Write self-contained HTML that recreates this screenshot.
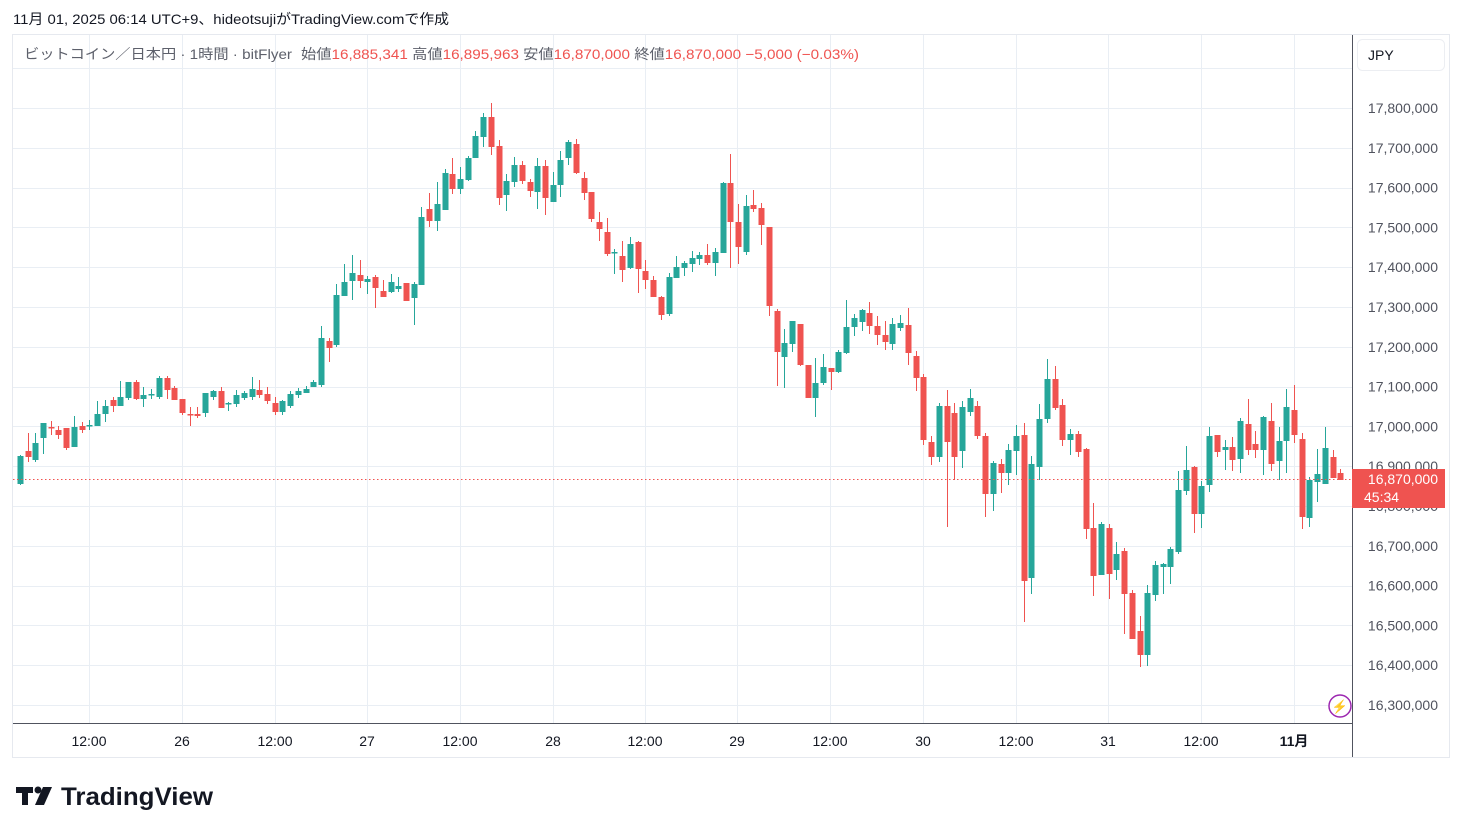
<!DOCTYPE html>
<html><head><meta charset="utf-8"><style>
body{margin:0;background:#fff;width:1462px;height:833px;overflow:hidden;font-family:"Liberation Sans","Noto Sans CJK JP",sans-serif;}
svg{position:absolute;left:0;top:0}
</style></head><body>
<svg id="s" width="1462" height="833" xmlns="http://www.w3.org/2000/svg" font-family="Liberation Sans, Noto Sans CJK JP, sans-serif">
<rect x="12.5" y="34.5" width="1437" height="723" fill="#fff" stroke="#e6e9ef"/>
<g id="grid" stroke="#e9eef4" stroke-width="1"></g>
<g id="c"></g>
<line x1="13" y1="479.5" x2="1352" y2="479.5" stroke="#ef5350" stroke-dasharray="1.5,2.5"/>
<line x1="13" y1="723.5" x2="1352" y2="723.5" stroke="#50535e"/>
<line x1="1352.5" y1="35" x2="1352.5" y2="757" stroke="#50535e"/>
<text x="13" y="24" font-size="14" fill="#131722" textLength="436" lengthAdjust="spacingAndGlyphs">11月 01, 2025 06:14 UTC+9、hideotsujiがTradingView.comで作成</text>
<text x="24" y="59" font-size="14" fill="#5d606b" textLength="268" lengthAdjust="spacingAndGlyphs">ビットコイン／日本円 · 1時間 · bitFlyer</text>
<text x="301" y="59" font-size="14" textLength="558" lengthAdjust="spacingAndGlyphs"><tspan fill="#5d606b">始値</tspan><tspan fill="#ef5350">16,885,341 </tspan><tspan fill="#5d606b"> 高値</tspan><tspan fill="#ef5350">16,895,963 </tspan><tspan fill="#5d606b"> 安値</tspan><tspan fill="#ef5350">16,870,000 </tspan><tspan fill="#5d606b"> 終値</tspan><tspan fill="#ef5350">16,870,000 </tspan><tspan fill="#ef5350"> −5,000 (−0.03%)</tspan></text>
<rect x="1357.5" y="39.5" width="87" height="31" rx="5" fill="#fff" stroke="#eceef2"/>
<text x="1368" y="60" font-size="14" fill="#131722">JPY</text>
<g id="p" font-size="14" fill="#50535e" text-anchor="end"></g>
<rect x="1352" y="469" width="93" height="39" fill="#ef5350"/>
<text x="1438" y="484" font-size="14" fill="#fff" text-anchor="end">16,870,000</text>
<text x="1364" y="502" font-size="14" fill="#fff">45:34</text>
<g font-size="14" fill="#131722" text-anchor="middle">
<text x="89" y="746">12:00</text><text x="182" y="746">26</text><text x="275" y="746">12:00</text><text x="367" y="746">27</text><text x="460" y="746">12:00</text><text x="553" y="746">28</text><text x="645" y="746">12:00</text><text x="737" y="746">29</text><text x="830" y="746">12:00</text><text x="923" y="746">30</text><text x="1016" y="746">12:00</text><text x="1108" y="746">31</text><text x="1201" y="746">12:00</text><text x="1294" y="746" font-weight="bold">11月</text>
</g>
<circle cx="1340" cy="706" r="11" fill="#fff" stroke="#9c27b0" stroke-width="1.5"/>
<text x="1340" y="711" font-size="13" fill="#9c27b0" text-anchor="middle">⚡</text>
<g fill="#131722"><rect x="16" y="787" width="17" height="6"/><rect x="22" y="787" width="6" height="18"/><circle cx="38" cy="790" r="3.5"/><polygon points="43,787 52,787 44,805 35,805"/></g>
<text x="61" y="805" font-size="25" font-weight="bold" fill="#131722" textLength="152" lengthAdjust="spacingAndGlyphs">TradingView</text>
</svg>
<script>
var g=document.getElementById('grid'),s='';
for(var k=-1;k<16;k++){var y=Math.round(108+k*39.8)+0.5;s+='<line x1="13" y1="'+y+'" x2="1352" y2="'+y+'"/>';}
[89,182,275,367,460,553,645,737,830,923,1016,1108,1201,1294].forEach(function(x){s+='<line x1="'+(x+0.5)+'" y1="35" x2="'+(x+0.5)+'" y2="723"/>';});
g.innerHTML=s;
var p='';for(var k=0;k<16;k++){var v=17800000-k*100000;var y=108+k*39.8+5;p+='<text x="1438" y="'+y+'">'+v.toLocaleString('en-US')+'</text>';}
document.getElementById('p').innerHTML=p;
var d="G456,484,455,485;R451,457,433,462;G443,460,433,462;G423,438,423,454;R427,428,421,435;R430,435,426,439;R428,448,428,450;G427,447,416,447;R426,430,422,433;G425,426,420,430;G414,426,401,426;G406,414,400,422;R400,406,397,412;G397,406,381,406;G382,398,382,400;R382,399,380,400;G395,399,387,407;G394,395,389,399;G378,397,376,399;R378,390,376,399;R388,400,386,400;R399,413,399,415;R414,415,407,426;R414,416,407,418;G393,413,393,417;G391,397,390,400;R391,408,387,408;G403,404,402,411;G395,404,390,407;G393,398,391,400;G389,397,377,400;R390,395,380,398;R394,401,387,404;R403,412,397,415;G401,412,400,415;G394,406,391,408;G391,395,388,398;G389,393,386,393;G382,387,380,387;G338,385,326,387;R341,348,338,362;G295,345,284,347;G282,296,264,296;G273,281,255,300;R275,281,260,288;G279,282,276,294;R277,288,275,308;R291,297,280,297;G282,292,274,293;G286,289,277,292;R283,301,283,301;G284,298,282,325;G217,285,207,285;R209,221,193,227;G204,221,182,231;G173,210,169,210;R174,189,158,194;G179,189,167,194;G158,180,156,181;G136,158,131,158;G117,137,113,147;R117,147,103,155;R146,198,140,205;G181,195,174,211;G165,182,157,187;R165,181,161,184;R182,191,179,197;G166,192,158,209;R166,198,160,215;G185,202,172,202;G160,185,151,197;G142,158,140,165;R144,173,139,174;R178,193,172,200;R192,219,192,222;R222,229,212,241;R232,254,218,256;G252,253,249,274;R256,270,241,282;G244,268,237,269;R242,269,241,293;R271,280,260,289;R280,297,276,297;R297,315,296,320;G277,314,273,316;G267,278,256,278;G263,268,261,276;G258,264,251,272;G255,259,252,265;R255,263,244,265;G252,263,248,276;G183,253,182,253;R183,222,154,268;R222,247,204,264;G206,252,195,255;R205,209,190,212;R208,225,203,245;R227,306,227,316;R311,352,309,386;G343,357,329,388;G321,344,321,352;R324,365,324,366;R365,398,365,398;G383,398,358,417;G367,383,354,385;R368,372,368,390;G352,372,350,373;G327,353,300,354;G318,327,314,336;G310,322,309,331;R313,326,302,334;R326,335,316,345;R335,342,321,350;G324,344,318,350;G323,328,315,331;R325,353,308,365;R356,378,351,391;R377,440,374,445;R442,457,436,465;G406,457,403,462;R406,442,390,527;R413,457,403,480;G407,451,401,468;G398,412,389,416;R406,436,401,439;R436,494,433,517;G463,494,461,511;R464,473,459,493;G450,473,444,485;G436,451,425,475;R435,581,423,622;G464,578,456,594;G419,467,404,480;G379,419,359,423;R379,408,366,410;R405,440,399,446;G434,440,429,455;R434,452,431,457;R449,529,448,539;R528,576,503,596;G524,575,522,575;R528,574,524,599;G554,570,542,580;R551,594,548,634;R593,639,590,639;R631,655,616,667;G593,655,585,666;G565,595,561,601;G564,567,563,594;G549,567,547,584;G490,552,471,554;G470,491,446,495;R467,514,466,533;G486,514,481,528;G436,485,427,492;R435,452,435,457;G447,450,440,470;R447,460,437,471;G421,459,418,473;R424,450,399,455;R444,450,431,458;G417,450,416,475;R421,464,403,471;G441,461,427,480;G407,441,389,473;R410,435,385,443;R439,517,433,529;G480,518,477,527;G474,482,449,502;G448,484,427,484;R457,478,450,478;R473,480,469,480".split(';');
var c='';d.forEach(function(e,i){var col=e[0]=='G'?'#26a69a':'#ef5350';var a=e.slice(1).split(',').map(Number);var x=1294-(165-i)*7.722;var cx=Math.round(x);
c+='<rect x="'+cx+'" y="'+a[2]+'" width="1" height="'+(a[3]-a[2])+'" fill="'+col+'"/>';
c+='<rect x="'+(cx-2.5)+'" y="'+a[0]+'" width="6" height="'+Math.max(1.5,a[1]-a[0])+'" fill="'+col+'"/>';});
document.getElementById('c').innerHTML=c;
</script>
</body></html>
